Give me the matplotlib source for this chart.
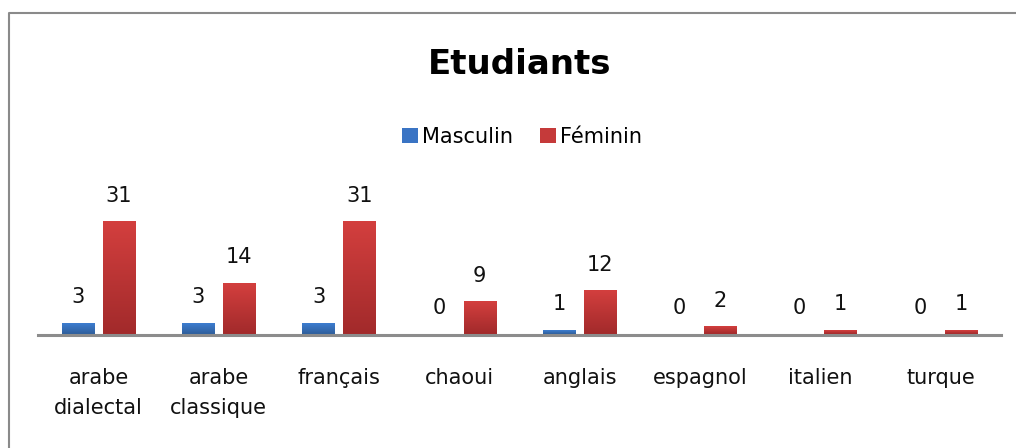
import numpy as np
import matplotlib
matplotlib.use("Agg")
import matplotlib.pyplot as plt
from matplotlib.colors import LinearSegmentedColormap
from matplotlib.lines import Line2D

# données
categories = ["arabe\ndialectal", "arabe\nclassique", "français", "chaoui",
              "anglais", "espagnol", "italien", "turque"]
masculin = [3, 3, 3, 0, 1, 0, 0, 0]
feminin = [31, 14, 31, 9, 12, 2, 1, 1]
series_names = ["Masculin", "Féminin"]

plt.rcParams['font.family'] = ['DejaVu Sans']

fig = plt.figure(figsize=(10.16, 4.48), dpi=100)
ax = fig.add_axes([38.25 / 1016, 1 - 334.5 / 448, 962.4 / 1016, 126.7 / 448])

x = np.arange(len(categories))
w = 0.269
off = 0.170

bars_m = ax.bar(x - off, masculin, w, color="#3a74c4", label=series_names[0], zorder=2)
bars_f = ax.bar(x + off, feminin, w, color="#c53a3a", label=series_names[1], zorder=2)

# dégradé vertical dans les barres
grad = np.linspace(0, 1, 100).reshape(-1, 1)
cmap_m = LinearSegmentedColormap.from_list("m", ["#2f5f9c", "#3d7dd0"])
cmap_f = LinearSegmentedColormap.from_list("f", ["#a22a2b", "#d33f3e"])
for bars, cmap in [(bars_m, cmap_m), (bars_f, cmap_f)]:
    for b in bars:
        bx, by, bw, bh = b.get_x(), b.get_y(), b.get_width(), b.get_height()
        if bh <= 0:
            continue
        ax.imshow(grad, extent=[bx, bx + bw, by, by + bh], origin="lower",
                  aspect="auto", cmap=cmap, zorder=3)

# étiquettes de valeurs
for bars, vals in [(bars_m, masculin), (bars_f, feminin)]:
    for b, v in zip(bars, vals):
        ax.annotate(str(v), (b.get_x() + b.get_width() / 2, v),
                    xytext=(0, 19), textcoords="offset points",
                    ha="center", va="center", fontsize=15, color="#111111")

ax.set_xlim(-0.5, len(categories) - 0.5)
ax.set_ylim(0, 35)
ax.set_xticks(x)
ax.set_xticklabels(categories, fontsize=15, linespacing=1.65, va="top",
                   color="#111111")
ax.tick_params(axis="x", length=0, pad=24)
ax.set_yticks([])
for s in ["top", "right", "left"]:
    ax.spines[s].set_visible(False)
ax.spines["bottom"].set_color("#8c8c8c")
ax.spines["bottom"].set_linewidth(2.2)
ax.spines["bottom"].set_zorder(4)
ax.patch.set_alpha(0)

fig.text(0.511, 1 - 64 / 448, "Etudiants", ha="center", va="center",
         fontsize=24.5, fontweight="bold")

fig.legend(handles=[bars_m, bars_f], labels=series_names, loc="center",
           bbox_to_anchor=(0.514, 1 - 137 / 448), ncol=2, frameon=False,
           fontsize=15, handlelength=0.75, handleheight=0.75,
           handletextpad=0.2, columnspacing=1.3)

# cadre du graphique
fig.add_artist(Line2D([9 / 1016, 9 / 1016, 1.0], [0.0, 1 - 13 / 448, 1 - 13 / 448],
                      transform=fig.transFigure, color="#8a8a8a", lw=1.5))

fig.savefig("out.png", dpi=100)
